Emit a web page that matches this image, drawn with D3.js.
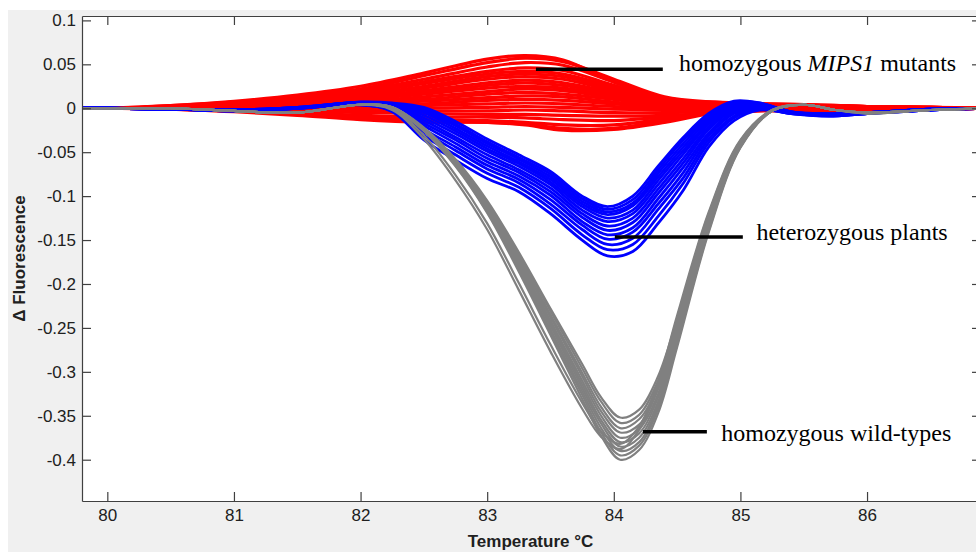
<!DOCTYPE html>
<html>
<head>
<meta charset="utf-8">
<script src="https://cdn.jsdelivr.net/npm/d3@7"></script>
<style>
  html, body { margin: 0; padding: 0; background: #fff; }
  svg { display: block; }
  .tick text { font-family: "Liberation Sans", Arial, sans-serif; font-size: 17px; fill: #202020; }
</style>
</head>
<body>
<div id="chart"></div>
<script>
// --- data ---
const xTicks = [80, 81, 82, 83, 84, 85, 86];
const yTicks = [0.1, 0.05, 0, -0.05, -0.1, -0.15, -0.2, -0.25, -0.3, -0.35, -0.4];

// homozygous MIPS1 mutants (red)
const redTemps = [79.8, 80, 80.5, 81, 81.5, 82, 82.5, 83, 83.3, 83.6, 84, 84.4, 84.8, 85.2, 85.6, 86, 86.5, 87];
const redCurves = [
  [0, 0, .003, .008, .015, .025, .040, .056, .060, .055, .030, .010, .007, .005, .004, .002, .001, 0],
  [0, 0, .003, .007, .013, .022, .037, .052, .057, .053, .033, .013, .007, .005, .004, .002, .001, 0],
  [0, 0, .002, .007, .012, .020, .033, .047, .052, .049, .030, .012, .006, .004, .003, .002, .001, 0],
  [0, 0, .002, .006, .011, .018, .030, .042, .046, .043, .026, .010, .006, .004, .003, .002, .001, 0],
  [0, 0, .002, .006, .010, .017, .028, .039, .042, .039, .024, .009, .005, .004, .003, .002, .001, 0],
  [0, 0, .002, .005, .009, .015, .025, .036, .039, .036, .022, .009, .005, .003, .003, .001, .001, 0],
  [0, 0, .002, .005, .008, .014, .023, .033, .036, .033, .020, .008, .004, .003, .002, .001, 0, 0],
  [0, 0, .001, .004, .007, .012, .020, .029, .032, .029, .018, .007, .004, .003, .002, .001, 0, 0],
  [0, 0, .001, .004, .007, .011, .018, .026, .029, .026, .016, .006, .003, .002, .002, .001, 0, 0],
  [0, 0, .001, .003, .006, .010, .016, .023, .025, .023, .014, .005, .003, .002, .001, 0, 0, 0],
  [0, 0, .001, .003, .005, .008, .013, .019, .022, .020, .012, .004, .002, .001, .001, 0, 0, 0],
  [0, 0, .001, .002, .004, .006, .010, .016, .018, .016, .010, .003, .002, .001, 0, 0, 0, 0],
  [0, 0, .001, .002, .003, .005, .008, .012, .014, .013, .007, .002, .001, 0, 0, -.001, 0, 0],
  [0, 0, .001, .001, .002, .003, .005, .009, .010, .009, .005, .001, 0, 0, -.001, -.001, 0, 0],
  [0, 0, 0, .001, .001, .001, .003, .005, .006, .005, .002, 0, -.001, -.001, -.002, -.002, -.001, 0],
  [0, 0, 0, 0, 0, -.001, 0, .001, .002, .001, -.001, -.002, -.002, -.002, -.003, -.002, -.001, 0],
  [0, 0, 0, -.001, -.002, -.003, -.003, -.003, -.002, -.003, -.005, -.005, -.004, -.002, -.003, -.003, -.001, 0],
  [0, 0, 0, -.001, -.003, -.005, -.006, -.007, -.007, -.008, -.009, -.008, -.006, -.003, -.004, -.003, -.001, 0],
  [0, 0, -.001, -.002, -.005, -.008, -.010, -.010, -.011, -.013, -.014, -.010, -.006, -.002, -.003, -.002, -.001, 0],
  [0, 0, -.001, -.003, -.006, -.010, -.013, -.014, -.016, -.019, -.019, -.012, -.005, -.001, -.003, -.002, -.001, 0],
  [0, 0, -.001, -.003, -.007, -.012, -.015, -.016, -.018, -.023, -.023, -.014, -.004, 0, -.002, -.002, -.001, 0],
  [0, 0, -.001, -.004, -.008, -.013, -.016, -.016, -.019, -.025, -.024, -.016, -.005, .001, -.002, -.002, -.001, 0]
];

// heterozygous plants (blue)
const blueTemps = [79.8, 80, 80.5, 81, 81.5, 82, 82.25, 82.5, 82.75, 83, 83.25, 83.5, 83.75, 83.95, 84.15, 84.35, 84.55, 84.75, 84.95, 85.15, 85.4, 85.7, 86, 86.5, 87];
const blueCurves = [
  [0, 0, -.001, -.002, .001, .007, .006, .001, -.015, -.035, -.053, -.072, -.100, -.112, -.100, -.066, -.033, -.006, .008, .006, -.004, -.006, -.005, -.001, 0],
  [0, 0, -.001, -.002, .001, .007, .005, -.001, -.018, -.038, -.056, -.075, -.103, -.115, -.104, -.070, -.036, -.008, .007, .006, -.004, -.006, -.005, -.001, 0],
  [0, 0, -.001, -.002, .001, .007, .005, -.003, -.020, -.040, -.058, -.078, -.106, -.118, -.108, -.074, -.040, -.010, .006, .005, -.004, -.007, -.005, -.001, 0],
  [0, 0, -.001, -.002, .001, .006, .004, -.005, -.023, -.043, -.061, -.081, -.109, -.121, -.111, -.078, -.044, -.013, .005, .005, -.004, -.007, -.005, -.001, 0],
  [0, 0, -.001, -.002, .001, .006, .004, -.008, -.026, -.046, -.063, -.084, -.112, -.125, -.116, -.082, -.048, -.016, .004, .004, -.005, -.007, -.005, -.001, 0],
  [0, 0, -.001, -.002, 0, .006, .003, -.011, -.029, -.049, -.066, -.087, -.116, -.129, -.120, -.087, -.052, -.018, .002, .004, -.005, -.007, -.005, -.001, 0],
  [0, 0, -.001, -.002, 0, .006, .002, -.014, -.033, -.053, -.070, -.091, -.120, -.134, -.125, -.092, -.057, -.021, 0, .003, -.005, -.007, -.005, -.001, 0],
  [0, 0, -.001, -.002, 0, .005, .001, -.017, -.036, -.057, -.073, -.095, -.124, -.139, -.130, -.097, -.062, -.024, -.002, .002, -.005, -.008, -.005, -.001, 0],
  [0, 0, -.001, -.003, 0, .005, 0, -.020, -.040, -.061, -.077, -.099, -.129, -.144, -.136, -.103, -.067, -.028, -.004, .002, -.005, -.008, -.006, -.002, 0],
  [0, 0, -.001, -.003, 0, .005, -.001, -.024, -.044, -.065, -.081, -.104, -.133, -.149, -.141, -.109, -.073, -.031, -.006, .001, -.005, -.008, -.006, -.002, 0],
  [0, 0, -.001, -.003, 0, .005, -.002, -.027, -.048, -.069, -.085, -.109, -.138, -.155, -.148, -.115, -.079, -.035, -.009, 0, -.006, -.008, -.006, -.002, 0],
  [0, 0, -.001, -.003, 0, .004, -.003, -.031, -.053, -.074, -.090, -.114, -.144, -.161, -.155, -.123, -.085, -.039, -.011, -.001, -.006, -.009, -.006, -.002, 0],
  [0, 0, -.001, -.003, 0, .004, -.004, -.036, -.059, -.080, -.095, -.120, -.150, -.168, -.163, -.131, -.093, -.044, -.014, -.002, -.006, -.009, -.006, -.002, 0]
];

// homozygous wild-types (gray)
const grayTemps = [79.8, 80, 80.5, 81, 81.5, 82, 82.25, 82.5, 82.75, 83, 83.25, 83.5, 83.75, 83.9, 84.05, 84.2, 84.35, 84.5, 84.75, 85, 85.25, 85.5, 85.75, 86, 86.5, 87];
const grayCurves = [
  [0, 0, 0, -.003, -.005, .004, .001, -.022, -.058, -.105, -.164, -.228, -.291, -.329, -.352, -.343, -.305, -.240, -.124, -.039, -.002, .004, -.002, -.005, -.002, 0],
  [0, 0, 0, -.003, -.005, .004, .001, -.023, -.059, -.107, -.166, -.231, -.296, -.334, -.358, -.349, -.310, -.244, -.126, -.040, -.003, .004, -.002, -.005, -.002, 0],
  [0, 0, 0, -.003, -.005, .004, .001, -.023, -.060, -.109, -.169, -.235, -.301, -.340, -.364, -.354, -.315, -.247, -.128, -.041, -.003, .004, -.002, -.005, -.002, 0],
  [0, 0, 0, -.003, -.005, .004, .001, -.024, -.061, -.110, -.171, -.238, -.305, -.345, -.369, -.360, -.320, -.251, -.130, -.041, -.003, .004, -.002, -.005, -.002, 0],
  [0, 0, 0, -.003, -.005, .004, .001, -.024, -.062, -.112, -.174, -.242, -.310, -.350, -.375, -.365, -.325, -.255, -.132, -.042, -.003, .004, -.002, -.005, -.002, 0],
  [0, 0, 0, -.003, -.005, .004, .001, -.024, -.063, -.113, -.176, -.245, -.314, -.355, -.380, -.370, -.329, -.258, -.134, -.043, -.003, .004, -.002, -.005, -.002, 0],
  [0, 0, 0, -.003, -.005, .004, 0, -.025, -.064, -.115, -.179, -.248, -.318, -.359, -.385, -.375, -.334, -.262, -.136, -.043, -.003, .004, -.002, -.005, -.002, 0],
  [0, 0, 0, -.003, -.005, .004, 0, -.025, -.065, -.116, -.181, -.252, -.322, -.364, -.390, -.380, -.338, -.265, -.137, -.044, -.003, .004, -.002, -.005, -.002, 0],
  [0, 0, 0, -.003, -.005, .004, 0, -.025, -.065, -.118, -.183, -.255, -.326, -.369, -.395, -.384, -.342, -.268, -.139, -.044, -.003, .004, -.002, -.006, -.002, 0],
  [0, 0, 0, -.003, -.005, .004, 0, -.026, -.066, -.119, -.186, -.258, -.331, -.373, -.400, -.389, -.347, -.272, -.141, -.045, -.003, .004, -.002, -.006, -.002, 0],
  [0, 0, 0, -.003, -.005, .004, -.001, -.031, -.076, -.131, -.199, -.269, -.335, -.368, -.382, -.362, -.312, -.236, -.118, -.036, -.002, .004, -.002, -.005, -.002, 0],
  [0, 0, 0, -.003, -.005, .004, -.002, -.035, -.082, -.138, -.207, -.277, -.342, -.374, -.388, -.366, -.316, -.240, -.120, -.037, -.002, .004, -.002, -.005, -.002, 0]
];

// annotation labels and where their pointer lines sit (data units)
const noteLabels = [
  ["homozygous ", "MIPS1", " mutants"],
  ["heterozygous plants"],
  ["homozygous wild-types"]
];
const noteLines = [
  { from: 83.385, to: 84.387, at: 0.0443, textX: 84.514, textY: 0.0427 },
  { from: 84.008, to: 85.019, at: -0.1465, textX: 85.126, textY: -0.1505 },
  { from: 84.23, to: 84.735, at: -0.3681, textX: 84.849, textY: -0.3784 }
];

// --- drawing ---
const W = 976, H = 552;
const plot = { left: 82, right: 981, top: 16, bottom: 501 };

const svg = d3.select("#chart").append("svg")
  .attr("width", W).attr("height", H);

// figure background
svg.append("rect")
  .attr("x", 8).attr("y", 10).attr("width", W - 8).attr("height", H - 10)
  .attr("fill", "#f0f0f0");
svg.append("rect")
  .attr("x", plot.left).attr("y", plot.top)
  .attr("width", plot.right - plot.left).attr("height", plot.bottom - plot.top)
  .attr("fill", "#fff");

const x = d3.scaleLinear().domain([79.8, 86.9]).range([plot.left, plot.right]);
const y = d3.scaleLinear().domain([-0.447, 0.105]).range([plot.bottom, plot.top]);

svg.append("clipPath").attr("id", "plotClip")
  .append("rect")
  .attr("x", plot.left).attr("y", plot.top)
  .attr("width", plot.right - plot.left).attr("height", plot.bottom - plot.top);

const curves = svg.append("g").attr("clip-path", "url(#plotClip)");

function drawGroup(temps, rows, color, width) {
  let line = d3.line()
    .x((d, i) => x(temps[i]))
    .y(d => y(d))
    .curve(d3.curveCatmullRom.alpha(0.5));
  curves.append("g")
    .selectAll("path")
    .data(rows)
    .enter()
    .append("path")
    .attr("d", line)
    .attr("fill", "none")
    .attr("stroke", color)
    .attr("stroke-width", width);
}

drawGroup(redTemps, redCurves, "#ff0000", 3.2);
drawGroup(blueTemps, blueCurves, "#0000ff", 2.8);
drawGroup(grayTemps, grayCurves, "#808080", 2.2);

// axes, MATLAB style box with inward ticks
const fmt = d => String(+d.toFixed(2));

function styleAxis(g) {
  g.selectAll("path, line").attr("stroke", "#404040").attr("stroke-width", 1.2);
}

svg.append("g")
  .attr("transform", `translate(0, ${plot.bottom})`)
  .call(d3.axisBottom(x).tickValues(xTicks).tickFormat(fmt)
    .tickSizeInner(-9).tickSizeOuter(0).tickPadding(8))
  .call(styleAxis);

svg.append("g")
  .attr("transform", `translate(${plot.left}, 0)`)
  .call(d3.axisLeft(y).tickValues(yTicks).tickFormat(fmt)
    .tickSizeInner(-9).tickSizeOuter(0).tickPadding(6))
  .call(styleAxis);

svg.append("g")
  .attr("transform", `translate(0, ${plot.top})`)
  .call(d3.axisTop(x).tickValues(xTicks).tickFormat("")
    .tickSizeInner(-9).tickSizeOuter(0))
  .call(styleAxis);

svg.append("g")
  .attr("transform", `translate(${plot.right}, 0)`)
  .call(d3.axisRight(y).tickValues(yTicks).tickFormat("")
    .tickSizeInner(-9).tickSizeOuter(0))
  .call(styleAxis);

svg.selectAll(".domain").attr("fill", "none");

// axis titles
svg.append("text")
  .attr("x", (plot.left + plot.right) / 2 - 1)
  .attr("y", 547)
  .attr("text-anchor", "middle")
  .style("font-family", "'Liberation Sans', Arial, sans-serif")
  .style("font-weight", "bold")
  .style("font-size", "17px")
  .attr("fill", "#202020")
  .text("Temperature °C");

svg.append("text")
  .attr("transform", `translate(25, ${(plot.top + plot.bottom) / 2}) rotate(-90)`)
  .attr("text-anchor", "middle")
  .style("font-family", "'Liberation Sans', Arial, sans-serif")
  .style("font-weight", "bold")
  .style("font-size", "17px")
  .attr("fill", "#202020")
  .text("Δ Fluorescence");

// annotations
const notes = svg.append("g");
noteLines.forEach((n, i) => {
  notes.append("line")
    .attr("x1", x(n.from)).attr("x2", x(n.to))
    .attr("y1", y(n.at)).attr("y2", y(n.at))
    .attr("stroke", "#000").attr("stroke-width", 3.5);

  let t = notes.append("text")
    .attr("x", x(n.textX)).attr("y", y(n.textY))
    .style("font-family", "'Liberation Serif', 'Times New Roman', serif")
    .style("font-size", "24px")
    .attr("fill", "#000");
  noteLabels[i].forEach((part, j) => {
    t.append("tspan")
      .style("font-style", j === 1 ? "italic" : "normal")
      .text(part);
  });
});
</script>
</body>
</html>
